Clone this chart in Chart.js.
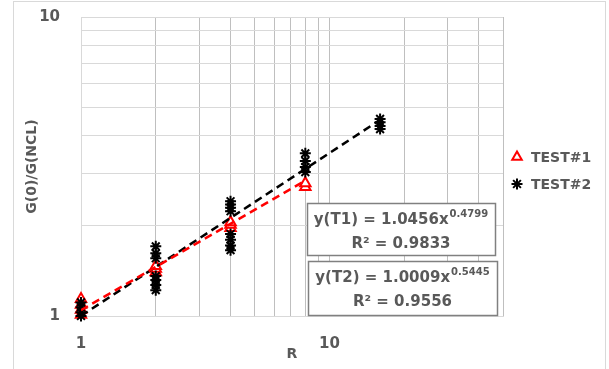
<!DOCTYPE html>
<html lang="en">
<head>
<meta charset="UTF-8">
<title>G(0)/G(NCL) vs R</title>
<style>
  html, body { margin: 0; padding: 0; background: #fff; }
  #wrap { width: 609px; height: 369px; }
</style>
</head>
<body>
<div id="wrap"><canvas id="myChart" width="609" height="369"></canvas></div>

<script src="https://cdn.jsdelivr.net/npm/chart.js"></script>
<script>
    // TEST#1 samples
    const r1 = [1, 1, 1, 1, 2, 2, 2, 4, 4, 4, 8, 8];
    const g1 = [1.01, 1.05, 1.09, 1.14, 1.40, 1.44, 1.47, 1.97, 2.02, 2.06, 2.70, 2.78];

    // TEST#2 samples
    const r2 = [1, 1, 1, 1,
                2, 2, 2, 2, 2, 2, 2,
                4, 4, 4, 4, 4, 4, 4, 4,
                8, 8, 8, 8,
                16, 16, 16, 16];
    const g2 = [1.0, 1.03, 1.07, 1.11,
                1.22, 1.27, 1.32, 1.36, 1.56, 1.62, 1.71,
                1.66, 1.72, 1.80, 1.88, 2.24, 2.30, 2.36, 2.42,
                3.03, 3.15, 3.30, 3.50,
                4.22, 4.32, 4.45, 4.56];

    // power trendlines y = a * x^b
    const fit1 = {a: 1.0456, b: 0.4799, r2: '0.9833', from: 1, to: 8};
    const fit2 = {a: 1.0009, b: 0.5445, r2: '0.9556', from: 1, to: 16};

    // gridline positions and which of them get a label
    const xGrid = [1, 2, 3, 4, 5, 6, 7, 8, 9, 10, 20, 30, 40, 50];
    const yGrid = [1, 2, 3, 4, 5, 6, 7, 8, 9, 10];
    const xTickLabels = [1, 10];
    const yTickLabels = [1, 10];

    const TEXT = '#595959';
    const FONT = 'DejaVu Sans';

    function points(xs, ys) {
        return xs.map((x, i) => ({x: x, y: ys[i]}));
    }
    function trend(f) {
        return [f.from, f.to].map(x => ({x: x, y: f.a * Math.pow(x, f.b)}));
    }

    const boxes = [
        {label: 'T1', fit: fit1, x: 307, y: 203, w: 188, h: 52},
        {label: 'T2', fit: fit2, x: 308, y: 261, w: 189, h: 54}
    ];

    const decorations = {
        id: 'decorations',
        beforeDraw(chart) {
            const c = chart.ctx;
            c.save();
            c.strokeStyle = '#d9d9d9';
            c.lineWidth = 1;
            c.strokeRect(13.5, 1.5, 592, 380);
            c.restore();
        },
        afterDraw(chart) {
            const c = chart.ctx;
            c.save();
            // legend
            const items = [
                {ds: chart.data.datasets[0], text: 'TEST#1', y: 157},
                {ds: chart.data.datasets[1], text: 'TEST#2', y: 184}
            ];
            items.forEach(it => {
                c.strokeStyle = it.ds.borderColor;
                c.fillStyle = it.ds.backgroundColor;
                c.lineWidth = 2;
                Chart.helpers.drawPoint(c, {pointStyle: it.ds.pointStyle, radius: 5.5, borderWidth: 2}, 517, it.y);
                c.fillStyle = TEXT;
                c.font = 'bold 14px ' + FONT;
                c.textBaseline = 'middle';
                c.textAlign = 'left';
                c.fillText(it.text, 531, it.y + 1);
            });

            // fit boxes
            boxes.forEach(b => {
                c.fillStyle = '#fff';
                c.fillRect(b.x, b.y, b.w, b.h);
                c.strokeStyle = '#808080';
                c.lineWidth = 1.5;
                c.strokeRect(b.x + 0.5, b.y + 0.5, b.w, b.h);

                const main = 'y(' + b.label + ') = ' + b.fit.a.toFixed(4) + 'x';
                const sup = b.fit.b.toFixed(4);
                c.font = 'bold 15px ' + FONT;
                const wMain = c.measureText(main).width;
                c.font = 'bold 10px ' + FONT;
                const wSup = c.measureText(sup).width;
                const cx = b.x + b.w / 2;
                let sx = cx - (wMain + wSup + 1) / 2;
                c.fillStyle = TEXT;
                c.textAlign = 'left';
                c.textBaseline = 'alphabetic';
                c.font = 'bold 15px ' + FONT;
                c.fillText(main, sx, b.y + 21);
                c.font = 'bold 10px ' + FONT;
                c.fillText(sup, sx + wMain + 1, b.y + 14);

                c.font = 'bold 15px ' + FONT;
                const line2 = 'R\u00B2 = ' + b.fit.r2;
                c.textAlign = 'center';
                c.fillText(line2, cx, b.y + 45);
            });
            c.restore();
        }
    };

    const ctx = document.getElementById('myChart').getContext('2d');

    const config = {
        type: 'scatter',
        data: {
            datasets: [{
                label: 'TEST#1',
                data: points(r1, g1),
                pointStyle: 'triangle',
                radius: 6,
                borderWidth: 2,
                borderColor: '#ff0000',
                backgroundColor: '#ffffff',
                clip: false,
                order: 2
            }, {
                label: 'TEST#2',
                data: points(r2, g2),
                pointStyle: 'star',
                radius: 5.5,
                borderWidth: 2,
                borderColor: '#000000',
                backgroundColor: '#000000',
                clip: false,
                order: 1
            }, {
                label: 'trend1',
                data: trend(fit1),
                showLine: true,
                borderColor: '#ff0000',
                borderWidth: 2.5,
                borderDash: [8, 5],
                pointRadius: 0,
                order: 0
            }, {
                label: 'trend2',
                data: trend(fit2),
                showLine: true,
                borderColor: '#000000',
                borderWidth: 2.5,
                borderDash: [8, 5],
                pointRadius: 0,
                order: 0
            }]
        },
        options: {
            responsive: false,
            animation: false,
            layout: {padding: {left: 14, right: 106, top: 17, bottom: 0}},
            plugins: {
                legend: {display: false},
                tooltip: {enabled: false}
            },
            scales: {
                x: {
                    type: 'logarithmic',
                    min: 1,
                    max: 50,
                    afterBuildTicks(scale) { scale.ticks = xGrid.map(v => ({value: v})); },
                    afterFit(scale) {
                        scale.height = 53;
                        scale.paddingLeft = 0;
                        scale.paddingRight = 0;
                    },
                    grid: {color: '#bfbfbf', drawTicks: false},
                    border: {color: '#d9d9d9'},
                    ticks: {
                        autoSkip: false,
                        maxRotation: 0,
                        padding: 19,
                        color: TEXT,
                        font: {family: FONT, size: 15, weight: 'bold'},
                        callback: v => xTickLabels.includes(v) ? String(v) : ''
                    },
                    title: {
                        display: true,
                        text: 'R',
                        color: TEXT,
                        font: {family: FONT, size: 14, weight: 'bold'},
                        padding: {top: 0, bottom: 6}
                    }
                },
                y: {
                    type: 'logarithmic',
                    min: 1,
                    max: 10,
                    afterBuildTicks(scale) { scale.ticks = yGrid.map(v => ({value: v})); },
                    afterFit(scale) {
                        scale.width = 67;
                        scale.paddingTop = 0;
                        scale.paddingBottom = 0;
                    },
                    grid: {color: '#d9d9d9', drawTicks: false},
                    border: {color: '#d9d9d9'},
                    ticks: {
                        autoSkip: false,
                        padding: 21,
                        color: TEXT,
                        font: {family: FONT, size: 15, weight: 'bold'},
                        callback: v => yTickLabels.includes(v) ? String(v) : ''
                    },
                    title: {
                        display: true,
                        text: 'G(0)/G(NCL)',
                        color: TEXT,
                        font: {family: FONT, size: 14, weight: 'bold'},
                        padding: {top: 10, bottom: 0}
                    }
                }
            }
        },
        plugins: [decorations]
    };

    const chart = new Chart(ctx, config);
</script>
</body>
</html>
